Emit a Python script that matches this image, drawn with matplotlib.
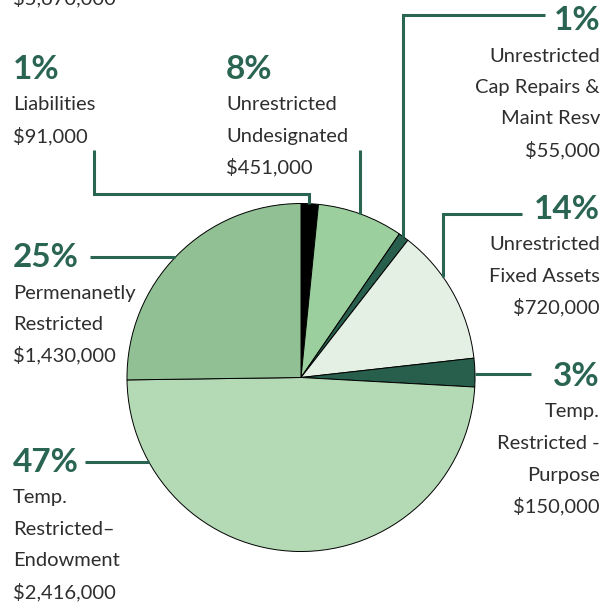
import matplotlib

matplotlib.use("Agg")
import numpy as np
from matplotlib import pyplot as plt

# slice amounts in thousands, read from the drawn wedges (clockwise from 12 o'clock)
categories = ["Liabilities", "Unrestricted Undesignated", "Unrestricted Cap Repairs & Maint Resv",
              "Unrestricted Fixed Assets", "Temp. Restricted - Purpose",
              "Temp. Restricted-Endowment", "Permenanetly Restricted"]
amounts = [91, 451, 55, 720, 150, 2773, 1430]
colors = ["#000000", "#9ccf9e", "#275e4c", "#e4f0e3", "#275e4c", "#b3dab5", "#90c093"]

pct_labels = ["1%", "8%", "1%", "14%", "3%", "47%", "25%"]
desc_labels = [
    ["Liabilities", "$91,000"],
    ["Unrestricted", "Undesignated", "$451,000"],
    ["Unrestricted", "Cap Repairs &", "Maint Resv", "$55,000"],
    ["Unrestricted", "Fixed Assets", "$720,000"],
    ["Temp.", "Restricted -", "Purpose", "$150,000"],
    ["Temp.", "Restricted\u2013", "Endowment", "$2,416,000"],
    ["Permenanetly", "Restricted", "$1,430,000"],
]
total_label = "$5,670,000"

W, H = 614, 607
GREEN = "#2a6452"
GREY = "#2e2e2e"

fig = plt.figure(figsize=(W / 100, H / 100), dpi=100)
ax = fig.add_axes([0, 0, 1, 1])

cx, cy, r = 301, H - 377.5, 174
ax.pie(amounts, colors=colors, startangle=90, counterclock=False,
       center=(cx, cy), radius=r,
       wedgeprops=dict(edgecolor="black", linewidth=0.7))
ax.set_xlim(0, W)
ax.set_ylim(0, H)
ax.set_aspect("equal")
ax.axis("off")


def Y(y):
    return H - y


def edge_y(x, top=True):
    d = np.sqrt(r ** 2 - (x - cx) ** 2)
    return cy + d if top else cy - d


def edge_x(y, left=True):
    d = np.sqrt(r ** 2 - (y - cy) ** 2)
    return cx - d if left else cx + d


def block(i, x, y0, ha):
    ax.text(x, Y(y0), pct_labels[i], ha=ha, va="baseline", fontsize=24,
            fontweight="bold", color=GREEN, family="Lato")
    for k, line in enumerate(desc_labels[i]):
        ax.text(x, Y(y0 + 31.5 + 31.5 * k), line, ha=ha, va="baseline",
                fontsize=14.5, fontweight="normal", color=GREY, family="Lato")


lk = dict(color=GREEN, linewidth=2.2, solid_capstyle="butt", solid_joinstyle="miter")

# total (cut at top, as in the source)
ax.text(13, Y(4), total_label, ha="left", va="baseline", fontsize=14.5,
        color=GREY, family="Lato")

# Liabilities
block(0, 13, 79, "left")
ax.plot([94, 94, 309, 309], [Y(150), Y(194), Y(194), edge_y(309)], **lk)
# Undesignated
block(1, 226, 79, "left")
ax.plot([359.5, 359.5], [Y(150), edge_y(359.5)], **lk)
# Cap repairs
block(2, 600, 30, "right")
ax.plot([545, 403, 403], [Y(15), Y(15), edge_y(403)], **lk)
# Fixed assets
block(3, 600, 219, "right")
ax.plot([522, 443, 443], [Y(214), Y(214), edge_y(443)], **lk)
# Purpose
block(4, 600, 386, "right")
ax.plot([edge_x(Y(373.5), left=False), 531], [Y(373.5), Y(373.5)], **lk)
# Endowment
block(5, 13, 472, "left")
ax.plot([85, edge_x(Y(462))], [Y(462), Y(462)], **lk)
# Permanently restricted
block(6, 13, 267, "left")
ax.plot([90, edge_x(Y(257))], [Y(257), Y(257)], **lk)

fig.savefig("out.png", dpi=100)
plt.close(fig)
